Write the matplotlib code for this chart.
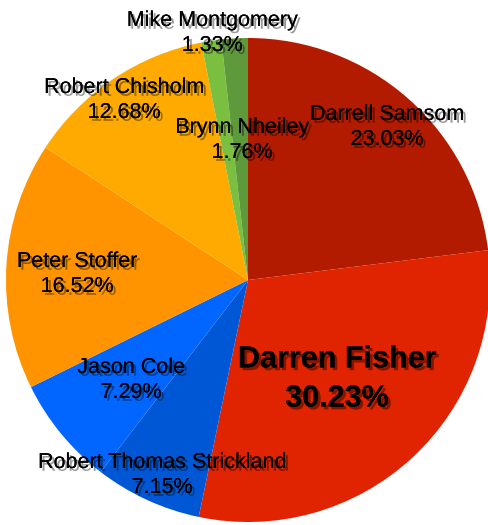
import matplotlib
matplotlib.use("Agg")
import matplotlib.pyplot as plt
import matplotlib.patheffects as pe

# data
names = ["Darrell Samsom", "Darren Fisher", "Robert Thomas Strickland", "Jason Cole",
         "Peter Stoffer", "Robert Chisholm", "Mike Montgomery", "Brynn Nheiley"]
shares = [23.03, 30.23, 7.15, 7.29, 16.52, 12.68, 1.33, 1.76]
colors = ["#b21b00", "#e02300", "#0057d6", "#0066ff",
          "#ff9300", "#ffaa00", "#7abf40", "#5e9a3c"]

# label centres in pixels (x, y from top)
label_pos = [(387, 127), (337, 379), (162, 475), (131, 380),
             (77, 274), (124, 100), (212, 33), (242, 140)]

W, H = 488, 525
fig = plt.figure(figsize=(W / 100, H / 100), dpi=100)
ax = fig.add_axes([0, 0, 1, 1])

ax.pie(shares, colors=colors, startangle=90, counterclock=False,
       center=(248, H - 280), radius=242, frame=True,
       wedgeprops=dict(linewidth=0))
ax.set_xlim(0, W)
ax.set_ylim(0, H)
ax.axis("off")

shadow = [pe.withSimplePatchShadow(offset=(2, -2), shadow_rgbFace="black", alpha=0.4),
          pe.Normal()]
fam = ["Liberation Sans Narrow", "Liberation Sans", "DejaVu Sans"]

for name, val, (x, y) in zip(names, shares, label_pos):
    if name == "Darren Fisher":
        ax.text(x, H - y, f"{name}\n{val:.2f}%", ha="center", va="center",
                fontsize=22, fontweight="bold", family=fam, linespacing=1.4,
                color="black", path_effects=shadow)
    else:
        ax.text(x, H - y, f"{name}\n{val:.2f}%", ha="center", va="center",
                fontsize=15.5, family=fam, linespacing=1.25,
                color="black", path_effects=shadow)

fig.savefig("out.png", dpi=100)
